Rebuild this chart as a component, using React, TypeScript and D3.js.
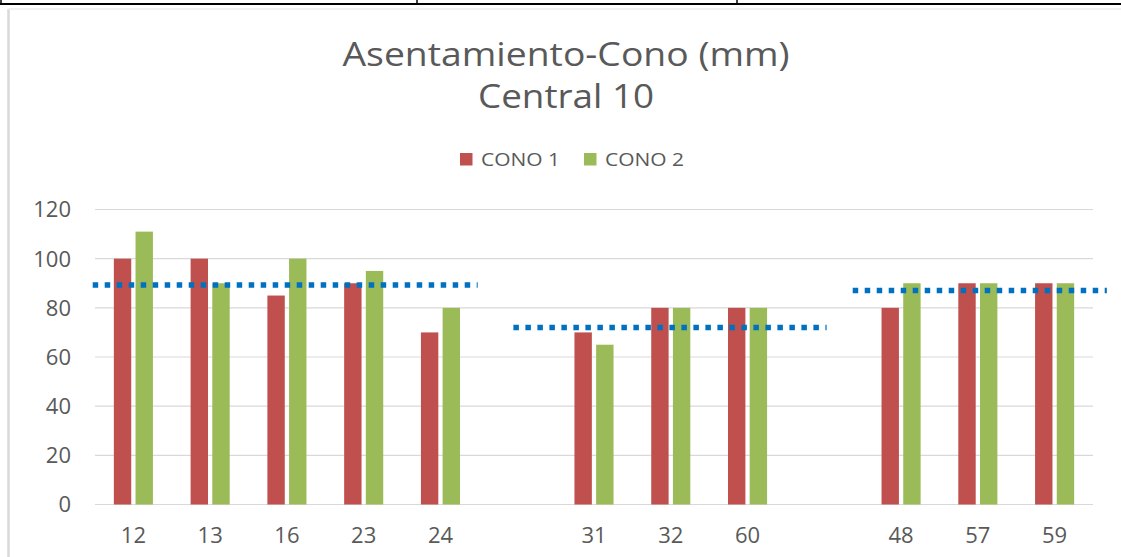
import React from "react";
import * as d3 from "d3";

const categories = ["12", "13", "16", "23", "24", "", "31", "32", "60", "", "48", "57", "59"];
const cono1: (number | null)[] = [100, 100, 85, 90, 70, null, 70, 80, 80, null, 80, 90, 90];
const cono2: (number | null)[] = [111, 90, 100, 95, 80, null, 65, 80, 80, null, 90, 90, 90];
const seriesNames = ["CONO 1", "CONO 2"];
const seriesColors = ["#C0504D", "#9BBB59"];
const yTicks = [0, 20, 40, 60, 80, 100, 120];
// dotted reference lines: value, start and end in category-index units
const refValues = [89.3, 72, 87.1];
const refStart = [-0.03, 5.45, 9.87];
const refEnd = [4.985, 9.53, 13.18];

const W = 1121;
const H = 557;
const left = 95;
const right = 1093;
const top = 209.5;
const bottom = 504.5;

export default function App() {
  const idx = d3.range(categories.length);
  const x0 = d3.scaleBand<number>().domain(idx).range([left, right]).paddingInner(0).paddingOuter(0);
  const x1 = d3
    .scaleBand<string>()
    .domain(seriesNames)
    .range([0, x0.bandwidth()])
    .paddingInner(0.198)
    .paddingOuter(0.869);
  const y = d3.scaleLinear().domain([0, 120]).range([bottom, top]);
  const xIdx = d3.scaleLinear().domain([0, categories.length]).range([left, right]);
  const series = [cono1, cono2];
  const font = "'Open Sans', sans-serif";
  const textColor = "#595959";
  const line = d3.line<[number, number]>().x((d) => d[0]).y((d) => d[1]);

  return (
    <svg
      width={W}
      height={H}
      style={{ position: "absolute", left: 0, top: 0, background: "#fff" }}
      fontFamily={font}
    >
      <rect x={0} y={0} width={W} height={H} fill="#fff" />
      {/* table border at top */}
      <line x1={0} x2={W} y1={4} y2={4} stroke="#000" strokeWidth={2} />
      {[1, 417, 737].map((vx) => (
        <line key={vx} x1={vx} x2={vx} y1={0} y2={4} stroke="#000" strokeWidth={1.5} />
      ))}
      {/* chart area border */}
      <line x1={8.5} x2={8.5} y1={9} y2={H} stroke="#D9D9D9" strokeWidth={2.5} />
      <line x1={8} x2={W} y1={9} y2={9} stroke="#EDEDED" strokeWidth={1.5} />

      {/* title */}
      <text x={566} y={66} textAnchor="middle" fontSize={32} fill={textColor} textLength={447} lengthAdjust="spacingAndGlyphs">
        Asentamiento-Cono (mm)
      </text>
      <text x={566} y={108} textAnchor="middle" fontSize={32} fill={textColor} textLength={176} lengthAdjust="spacingAndGlyphs">
        Central 10
      </text>

      {/* legend */}
      {seriesNames.map((name, i) => {
        const lx = [460, 584][i];
        return (
          <g key={name}>
            <rect x={lx} y={153} width={12.5} height={12.5} fill={seriesColors[i]} />
            <text x={lx + 21} y={165.5} fontSize={18} fill={textColor} textLength={79} lengthAdjust="spacingAndGlyphs">
              {name}
            </text>
          </g>
        );
      })}

      {/* gridlines */}
      {yTicks.map((t) => (
        <g key={t}>
          <line x1={left} x2={right} y1={y(t)} y2={y(t)} stroke="#D9D9D9" strokeWidth={1.2} />
          <text x={71} y={y(t)} dy="0.36em" textAnchor="end" fontSize={22} fill={textColor}>
            {t}
          </text>
        </g>
      ))}

      {/* bars */}
      {series.map((vals, si) =>
        vals.map((v, ci) =>
          v == null ? null : (
            <rect
              key={`${si}-${ci}`}
              x={(x0(ci) as number) + (x1(seriesNames[si]) as number)}
              y={y(v)}
              width={x1.bandwidth()}
              height={y(0) - y(v)}
              fill={seriesColors[si]}
            />
          )
        )
      )}

      {/* x labels */}
      {categories.map((c, ci) =>
        c === "" ? null : (
          <text
            key={ci}
            x={(x0(ci) as number) + x0.bandwidth() / 2}
            y={543}
            textAnchor="middle"
            fontSize={22}
            fill={textColor}
          >
            {c}
          </text>
        )
      )}

      {/* dotted reference lines */}
      {refValues.map((v, i) => (
        <path
          key={i}
          d={line([
            [xIdx(refStart[i]), y(v)],
            [xIdx(refEnd[i]), y(v)],
          ]) as string}
          stroke="#0070C0"
          strokeWidth={5.5}
          strokeDasharray="5.5 6.5"
          fill="none"
        />
      ))}
    </svg>
  );
}
